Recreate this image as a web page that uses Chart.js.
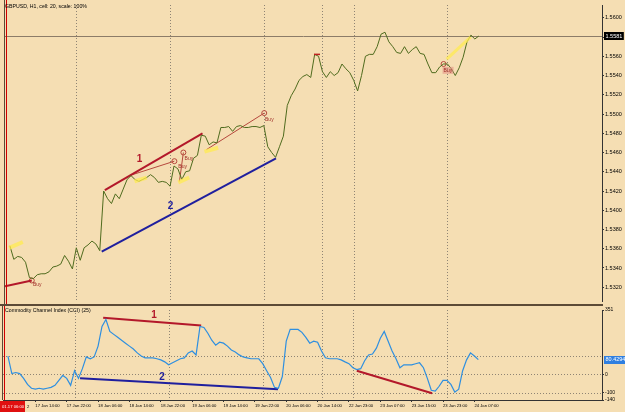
<!DOCTYPE html>
<html>
<head>
<meta charset="utf-8">
<script src="https://cdn.jsdelivr.net/npm/chart.js@4.4.1/dist/chart.umd.min.js"></script>
<style>
html, body { margin: 0; padding: 0; background: #f5deb3; }
#wrap { position: relative; width: 625px; height: 412px; overflow: hidden; }
canvas { position: absolute; left: 0; }
#main { top: 0; }
#cci { top: 306px; }
</style>
</head>
<body>
<div id="wrap">
  <canvas id="main" width="625" height="306"></canvas>
  <canvas id="cci" width="625" height="106"></canvas>
</div>
<script>
// H1 bars, index 0 = 17 Jan 06:00
const xTickIdx = [8, 16, 24, 32, 40, 48, 56, 64, 72, 80, 88, 96, 104, 112, 120];
const xLabels = ['17 Jan 14:00', '17 Jan 22:00', '18 Jan 06:00', '18 Jan 14:00', '18 Jan 22:00',
  '19 Jan 06:00', '19 Jan 14:00', '19 Jan 22:00', '20 Jan 06:00', '20 Jan 14:00',
  '22 Jan 23:00', '23 Jan 07:00', '23 Jan 15:00', '23 Jan 23:00', '24 Jan 07:00'];
const daySep = [18, 42, 66, 81, 89, 113];

const price = [null, 1.5363, 1.5349, 1.5352, 1.5351, 1.5346, 1.5330, 1.5329, 1.5333, 1.5334,
  1.5334, 1.5336, 1.5341, 1.5342, 1.5344, 1.5353, 1.5347, 1.5339, 1.5361, 1.5348,
  1.5361, 1.5364, 1.5368, 1.5365, 1.5358, 1.5420, 1.5412, 1.5407, 1.5417, 1.5412,
  1.5422, 1.5432, 1.5436, 1.5432, 1.5430, 1.5432, 1.5434, 1.5437, 1.5434, 1.5429,
  1.5430, 1.5429, 1.5425, 1.5446, 1.5443, 1.5432, 1.5440, 1.5441, 1.5454, 1.5457,
  1.5478, 1.5477, 1.5468, 1.5471, 1.5470, 1.5486, 1.5486, 1.5487, 1.5482, 1.5487,
  1.5488, 1.5486, 1.5486, 1.5487, 1.5487, 1.5486, 1.5488, 1.5466, 1.5460, 1.5455,
  1.5466, 1.5477, 1.5509, 1.5519, 1.5526, 1.5535, 1.5539, 1.5541, 1.5538, 1.5562,
  1.5560, 1.5544, 1.5538, 1.5544, 1.5540, 1.5543, 1.5552, 1.5547, 1.5543, 1.5535,
  1.5524, 1.5540, 1.5560, 1.5562, 1.5562, 1.5570, 1.5583, 1.5585, 1.5575, 1.5570,
  1.5564, 1.5563, 1.5570, 1.5563, 1.5567, 1.5570, 1.5563, 1.5562, 1.5552, 1.5543,
  1.5543, 1.5549, 1.5552, 1.5552, 1.5547, 1.5540, 1.5548, 1.5559, 1.5575, 1.5582,
  1.5578, 1.5581];

const cci = [null, 100, 4, 10, 4, -22, -55, -76, -81, -76,
  -81, -76, -71, -60, -33, -6, -22, -60, 20, -22,
  31, 95, 85, 95, 154, 261, 299, 234, 218, 202,
  186, 170, 154, 138, 117, 100, 90, 90, 90, 85,
  79, 68, 52, 63, 74, 85, 90, 117, 127, 106,
  261, 256, 224, 186, 159, 175, 170, 154, 133, 122,
  106, 95, 90, 85, 85, 85, 58, 20, -17, -71,
  -76, -12, 181, 245, 245, 245, 229, 202, 170, 181,
  175, 127, 90, 85, 85, 85, 79, 68, 58, 36,
  26, 31, 74, 106, 111, 143, 197, 234, 181, 127,
  85, 36, 52, 52, 52, 58, 63, 36, -22, -87,
  -92, -65, -33, -33, -55, -97, -81, 20, 79, 117,
  100, 80.4294];

const priceTicks = [1.532, 1.534, 1.536, 1.538, 1.540, 1.542, 1.544, 1.546, 1.548, 1.550,
  1.552, 1.554, 1.556, 1.558, 1.560];
const cciTicks = [-140, -100, 0, 351];
const cciLevels = [100, 0, -100];
const lastPrice = 1.5581;
const lastCci = 80.4294;

// drawn objects on the price window: [bar, price]
const redLine1 = [[25.3, 1.5421], [50.3, 1.5480]];
const blueLine2 = [[24.5, 1.5357], [69.1, 1.5454]];
const redLine0 = [[-0.25, 1.5321], [6.6, 1.5327]];
const tradeA = [[31.6, 1.5436], [43.1, 1.5451]];
const tradeB = [[44.4, 1.5430], [45.4, 1.5460]];
const tradeC = [[51.3, 1.5463], [66.1, 1.5501]];
const tradeD = [[6.6, 1.5327], [6.6, 1.5327]];
const tradeE = [[112, 1.5552], [112, 1.5552]];
const yellow1 = [[0.8, 1.5361], [4.3, 1.5367]];
const yellow2 = [[32.9, 1.5430], [36.0, 1.5434]];
const yellow3 = [[44.1, 1.5429], [46.9, 1.5434]];
const yellow4 = [[50.8, 1.5461], [54.3, 1.5465]];
const yellow5 = [[112.8, 1.5557], [118.9, 1.5580]];
const mainTags = [['1', 34.2, 1.5453, '#b3182a'], ['2', 42.1, 1.5404, '#1f1f9e']];
const buyTags = [[6.9, 1.5325], [44.1, 1.5448], [45.7, 1.5456], [66.3, 1.5497], [112, 1.5548]];

// drawn objects on the CCI window: [bar, value]
const cciRed1 = [[25.3, 309], [50.3, 266]];
const cciBlue2 = [[19.4, -22], [69.9, -81]];
const cciRed3 = [[90, 20], [109.2, -103]];
const cciTags = [['1', 38.3, 325, '#b3182a'], ['2', 40.3, -17, '#1f1f9e']];

const X_MIN = -0.255, X_MAX = 152.55;
const FONT = 'Liberation Sans, Arial, sans-serif';

function seg(pts, color, width, extra) {
    return Object.assign({
        data: pts.map(p => ({ x: p[0], y: p[1] })),
        borderColor: color,
        borderWidth: width,
        pointRadius: 0,
        fill: false
    }, extra || {});
}

function trade(pts) {
    return seg(pts, '#b5473c', 1, {
        pointRadius: [0, 2.5],
        pointBorderColor: '#b5473c',
        pointBackgroundColor: 'rgba(0,0,0,0)',
        pointBorderWidth: 1
    });
}

function vDots(chart) {
    const ctx = chart.ctx, a = chart.chartArea, xs = chart.scales.x;
    ctx.save();
    ctx.strokeStyle = '#8f8474';
    ctx.lineWidth = 1;
    ctx.setLineDash([1, 2]);
    daySep.forEach(i => {
        const x = Math.round(xs.getPixelForValue(i)) + 0.5;
        ctx.beginPath();
        ctx.moveTo(x, a.top);
        ctx.lineTo(x, a.bottom);
        ctx.stroke();
    });
    ctx.restore();
}

function redMarker(chart, y0, y1) {
    const ctx = chart.ctx, xs = chart.scales.x;
    const x = Math.round(xs.getPixelForValue(0)) + 0.5;
    ctx.save();
    ctx.strokeStyle = '#d00000';
    ctx.lineWidth = 1;
    ctx.beginPath();
    ctx.moveTo(x, y0);
    ctx.lineTo(x, y1);
    ctx.stroke();
    ctx.strokeStyle = '#5c4a36';
    ctx.beginPath();
    ctx.moveTo(chart.chartArea.left - 0.5, y0);
    ctx.lineTo(chart.chartArea.left - 0.5, y1);
    ctx.stroke();
    ctx.restore();
}

function tags(chart, list) {
    const ctx = chart.ctx, xs = chart.scales.x, ys = chart.scales.y;
    ctx.save();
    ctx.font = 'bold 10px ' + FONT;
    ctx.textAlign = 'center';
    ctx.textBaseline = 'middle';
    list.forEach(t => {
        ctx.fillStyle = t[3];
        ctx.fillText(t[0], xs.getPixelForValue(t[1]), ys.getPixelForValue(t[2]));
    });
    ctx.restore();
}

function axisBox(chart, value, text, bg, fg) {
    const ctx = chart.ctx, ys = chart.scales.y;
    const y = ys.getPixelForValue(value);
    const x0 = chart.chartArea.right + 2;
    ctx.save();
    ctx.font = '5.5px ' + FONT;
    const w = ctx.measureText(text).width + 3;
    ctx.fillStyle = bg;
    ctx.fillRect(x0, Math.round(y) - 4, w, 8);
    ctx.fillStyle = fg;
    ctx.textBaseline = 'middle';
    ctx.textAlign = 'left';
    ctx.fillText(text, x0 + 1.5, y);
    ctx.restore();
}

const mainDecor = {
    id: 'mainDecor',
    beforeDatasetsDraw(chart) {
        const ctx = chart.ctx, a = chart.chartArea, ys = chart.scales.y;
        vDots(chart);
        const y = Math.round(ys.getPixelForValue(lastPrice)) + 0.5;
        ctx.save();
        ctx.strokeStyle = '#8c7c68';
        ctx.lineWidth = 1;
        ctx.beginPath();
        ctx.moveTo(a.left, y);
        ctx.lineTo(a.right, y);
        ctx.stroke();
        ctx.restore();
    },
    afterDatasetsDraw(chart) {
        const ctx = chart.ctx, xs = chart.scales.x, ys = chart.scales.y;
        tags(chart, mainTags);
        ctx.save();
        // pink mark behind the last Buy
        ctx.fillStyle = 'rgba(225,140,130,0.55)';
        ctx.fillRect(xs.getPixelForValue(112) - 1, ys.getPixelForValue(1.5548) - 1, 11, 7);
        ctx.font = '5px ' + FONT;
        ctx.fillStyle = '#a0302a';
        ctx.textBaseline = 'top';
        buyTags.forEach(b => ctx.fillText('Buy', xs.getPixelForValue(b[0]), ys.getPixelForValue(b[1])));
        // red sell-stop mark
        const mx = xs.getPixelForValue(79.6), my = ys.getPixelForValue(1.5562);
        ctx.strokeStyle = '#c02020';
        ctx.lineWidth = 1.5;
        ctx.beginPath();
        ctx.moveTo(mx - 3, my);
        ctx.lineTo(mx + 3, my);
        ctx.stroke();
        ctx.restore();
    },
    afterDraw(chart) {
        const ctx = chart.ctx;
        axisBox(chart, lastPrice, '1.5581', '#000', '#fff');
        redMarker(chart, 0, 304);
        ctx.save();
        ctx.fillStyle = '#000';
        ctx.font = '5.2px ' + FONT;
        ctx.textBaseline = 'top';
        ctx.fillText('GBPUSD, H1, cell: 20, scale: 100%', 5, 4);
        ctx.fillStyle = '#5c4a36';
        ctx.fillRect(0, 304, chart.chartArea.right + 1, 2);
        ctx.restore();
    }
};

const cciDecor = {
    id: 'cciDecor',
    beforeDatasetsDraw(chart) {
        const ctx = chart.ctx, a = chart.chartArea, ys = chart.scales.y;
        vDots(chart);
        ctx.save();
        ctx.strokeStyle = '#8f8474';
        ctx.lineWidth = 1;
        ctx.setLineDash([1, 2]);
        cciLevels.forEach(v => {
            const y = Math.round(ys.getPixelForValue(v)) + 0.5;
            ctx.beginPath();
            ctx.moveTo(a.left, y);
            ctx.lineTo(a.right, y);
            ctx.stroke();
        });
        ctx.restore();
    },
    afterDatasetsDraw(chart) {
        tags(chart, cciTags);
    },
    afterDraw(chart) {
        const ctx = chart.ctx;
        axisBox(chart, lastCci, '80.4294', '#2f7fe0', '#fff');
        redMarker(chart, 0, chart.chartArea.bottom);
        ctx.save();
        ctx.fillStyle = '#000';
        ctx.font = '5.2px ' + FONT;
        ctx.textBaseline = 'top';
        ctx.fillText('Commodity Channel Index (CCI) (25)', 5, 2);
        // crosshair date box
        ctx.fillStyle = '#e01010';
        ctx.fillRect(0, chart.chartArea.bottom + 1, 25, 11);
        ctx.fillStyle = '#fff';
        ctx.font = '4.2px ' + FONT;
        ctx.textBaseline = 'middle';
        ctx.fillText('01.17 06:00', 2, chart.chartArea.bottom + 6.5);
        ctx.fillStyle = '#000';
        ctx.fillText('2', 27, chart.chartArea.bottom + 6.5);
        ctx.restore();
    }
};

const fitRight = s => { s.width = 23; };

new Chart(document.getElementById('main'), {
    type: 'line',
    data: {
        datasets: [
            seg(yellow1, 'rgba(255,235,80,0.75)', 4),
            seg(yellow2, 'rgba(255,235,80,0.75)', 4),
            seg(yellow3, 'rgba(255,235,80,0.75)', 4),
            seg(yellow4, 'rgba(255,235,80,0.75)', 4),
            seg(yellow5, 'rgba(255,235,80,0.75)', 3),
            {
                data: price.map((v, i) => ({ x: i, y: v })),
                borderColor: '#4f6b1e',
                borderWidth: 1,
                pointRadius: 0,
                fill: false
            },
            seg(redLine1, '#b3182a', 2),
            seg(blueLine2, '#1f1f9e', 2),
            seg(redLine0, '#b3182a', 2),
            trade(tradeA),
            trade(tradeB),
            trade(tradeC),
            trade(tradeD),
            trade(tradeE)
        ]
    },
    options: {
        responsive: false,
        animation: false,
        events: [],
        layout: { padding: { top: 3, bottom: 2, left: 3, right: 0 } },
        plugins: { legend: { display: false }, tooltip: { enabled: false } },
        scales: {
            x: { type: 'linear', min: X_MIN, max: X_MAX, display: false },
            y: {
                position: 'right',
                min: 1.53057,
                max: 1.56133,
                afterFit: fitRight,
                afterBuildTicks: s => { s.ticks = priceTicks.map(v => ({ value: v })); },
                ticks: {
                    autoSkip: false,
                    color: '#000',
                    padding: 1,
                    font: { size: 5.5, family: FONT },
                    callback: v => v.toFixed(4)
                },
                grid: { drawOnChartArea: false, tickLength: 2, color: '#333' },
                border: { color: '#333' }
            }
        }
    },
    plugins: [mainDecor]
});

new Chart(document.getElementById('cci'), {
    type: 'line',
    data: {
        datasets: [
            {
                data: cci.map((v, i) => ({ x: i, y: v })),
                borderColor: '#2e8fe0',
                borderWidth: 1.2,
                pointRadius: 0,
                fill: false
            },
            seg(cciRed1, '#b3182a', 2),
            seg(cciBlue2, '#1f1f9e', 2),
            seg(cciRed3, '#b3182a', 2)
        ]
    },
    options: {
        responsive: false,
        animation: false,
        events: [],
        layout: { padding: { top: 2, bottom: 0, left: 3, right: 0 } },
        plugins: { legend: { display: false }, tooltip: { enabled: false } },
        scales: {
            x: {
                type: 'linear',
                min: X_MIN,
                max: X_MAX,
                afterFit: s => { s.height = 12; },
                afterBuildTicks: s => { s.ticks = xTickIdx.map(v => ({ value: v })); },
                ticks: {
                    autoSkip: false,
                    maxRotation: 0,
                    align: 'start',
                    padding: 1,
                    color: '#000',
                    font: { size: 4.2, family: FONT },
                    callback: (v, i) => xLabels[i]
                },
                grid: { drawOnChartArea: false, tickLength: 2, color: '#333' },
                border: { color: '#333' }
            },
            y: {
                position: 'right',
                min: -140,
                max: 351,
                afterFit: fitRight,
                afterBuildTicks: s => { s.ticks = cciTicks.map(v => ({ value: v })); },
                ticks: {
                    autoSkip: false,
                    color: '#000',
                    padding: 1,
                    font: { size: 5, family: FONT },
                    callback: v => String(v)
                },
                grid: { drawOnChartArea: false, tickLength: 2, color: '#333' },
                border: { color: '#333' }
            }
        }
    },
    plugins: [cciDecor]
});
</script>
</body>
</html>
